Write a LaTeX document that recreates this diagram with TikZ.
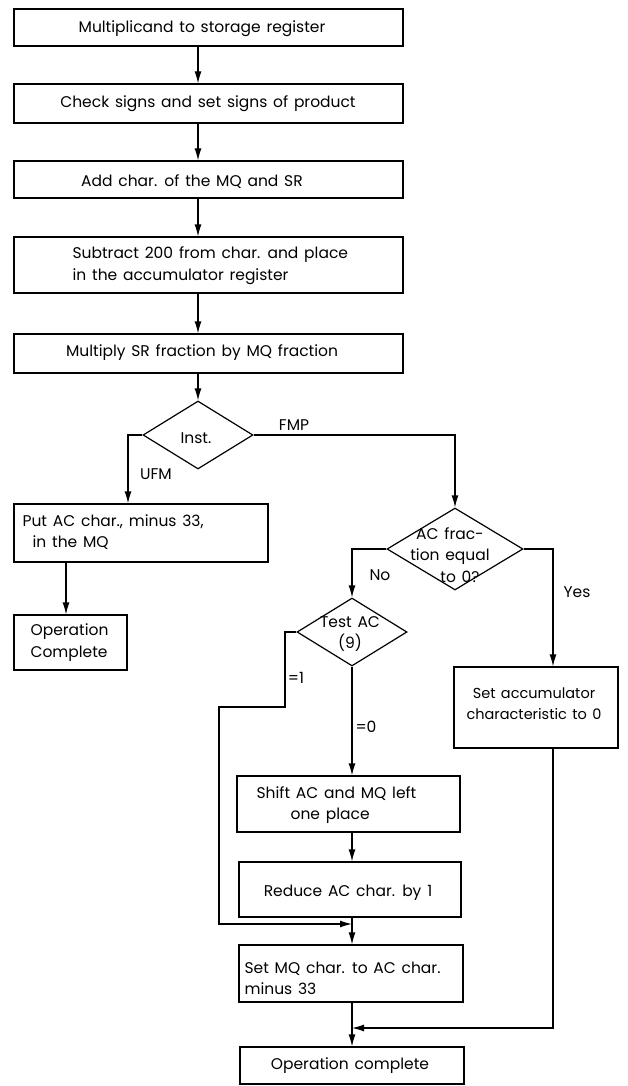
\documentclass[tikz,border=0pt]{standalone}
\usepackage{fontspec}
\setmainfont[WordSpace=1.4]{Poppins}
\usetikzlibrary{arrows.meta,shapes.geometric}
\begin{document}
\begin{tikzpicture}[x=1pt,y=-1pt,
  line width=1.2pt,
  font=\fontsize{15.5}{21.5}\selectfont,
  box/.style={draw, rectangle, inner sep=0pt},
  dia/.style={draw, diamond, inner sep=0pt},
  txt/.style={inner sep=0pt, align=left},
  ctxt/.style={inner sep=0pt, align=center},
  lbl/.style={inner sep=0pt},
  arr/.style={-{Latex[length=12pt,width=7pt]}}]
\useasboundingbox (0,0) rectangle (628,1086);

% spines along which the vertical connectors run
\coordinate (sp)  at (198,0);
\coordinate (sp2) at (352,0);
\coordinate (lx)  at (128,0);
\coordinate (yx)  at (553,0);
\coordinate (ox)  at (66,0);

% main column
\node[box, minimum width=389, minimum height=37] (b1) at (208.5,27.5) {};
\node[ctxt] (t1) at (202,29) {Multiplicand to storage register};
\node[box, minimum width=389, minimum height=39] (b2) at (208.5,103.5) {};
\node[ctxt] (t2) at (208,104) {Check signs and set signs of product};
\node[box, minimum width=389, minimum height=37] (b3) at (208.5,179.5) {};
\node[ctxt] (t3) at (192,182) {Add char. of the MQ and SR};
\node[box, minimum width=389, minimum height=56] (b4) at (208.5,265) {};
\node[txt, anchor=west] (t4) at (72,265.5) {Subtract 200 from char. and place\\in the accumulator register};
\node[box, minimum width=389, minimum height=39] (b5) at (208.5,353.5) {};
\node[ctxt] (t5) at (202,353) {Multiply SR fraction by MQ fraction};

\draw[arr] (b1.south -| sp) -- (b2.north -| sp);
\draw[arr] (b2.south -| sp) -- (b3.north -| sp);
\draw[arr] (b3.south -| sp) -- (b4.north -| sp);
\draw[arr] (b4.south -| sp) -- (b5.north -| sp);

% instruction decision
\node[dia, minimum width=110, minimum height=68] (inst) at (198,435) {};
\node[ctxt] (instt) at (196,438) {Inst.};
\draw[arr] (b5.south -| sp) -- (inst.north);

% UFM branch
\node[box, minimum width=254, minimum height=58] (ufm) at (141,533) {};
\node[txt, anchor=west] (ufmt) at (22,532) {Put AC char., minus 33,\\\hspace*{10pt}in the MQ};
\node[box, minimum width=113, minimum height=55] (op1) at (70.5,642.5) {};
\node[txt, anchor=west] (op1t) at (30,642.5) {Operation\\Complete};
\draw[arr] (inst.west) -| (lx |- ufm.north);
\node[lbl] (ufml) at (156,474) {UFM};
\draw[arr] (ufm.south -| ox) -- (op1.north -| ox);

% FMP branch
\node[dia, minimum width=136, minimum height=82] (ac) at (455,549) {};
\node[ctxt] (act) at (450,555) {AC frac-\\tion equal\\\hspace*{20pt}to 0?};
\draw[arr] (inst.east) -| (ac.north);
\node[lbl] (fmpl) at (294,425) {FMP};

% AC fraction zero
\node[box, minimum width=164, minimum height=81] (sacc) at (536,707.5) {};
\node[ctxt, font=\fontsize{14.5}{21.5}\selectfont] (sacct) at (534,703.5) {Set accumulator\\characteristic to 0};
\draw[arr] (ac.east) -| (yx |- sacc.north);
\node[lbl] (yesl) at (577,592) {Yes};

% AC fraction not zero
\node[dia, minimum width=110, minimum height=68] (tac) at (352,632) {};
\node[ctxt] (tact) at (350,634) {Test AC\\(9)};
\draw[arr] (ac.west) -| (tac.north);
\node[lbl] (nol) at (380,575) {No};

\node[box, minimum width=223, minimum height=56] (shf) at (348.5,804) {};
\node[txt, anchor=west] (shft) at (256,805) {Shift AC and MQ left\\\hspace*{34pt}one place};
\node[box, minimum width=222, minimum height=55] (red) at (350,889.5) {};
\node[ctxt] (redt) at (348,893) {Reduce AC char. by 1};
\node[box, minimum width=224, minimum height=57] (smq) at (351,973.5) {};
\node[txt, anchor=west] (smqt) at (244,978.5) {Set MQ char. to AC char.\\minus 33};
\node[box, minimum width=224, minimum height=37] (op2) at (352,1065.5) {};
\node[ctxt] (op2t) at (350,1066) {Operation complete};

\draw[arr] (tac.south) -- (shf.north -| sp2);
\node[lbl] (eq0) at (366,727) {=0};
\draw[arr] (shf.south -| sp2) -- (red.north -| sp2);
\draw[arr] (red.south -| sp2) -- (smq.north -| sp2);
\draw[arr] (smq.south -| sp2) -- (op2.north -| sp2);

% test AC = 1 bypass
\coordinate (k1) at (285,707);
\coordinate (k2) at (219,924);
\draw[arr] (tac.west) -| (k1) -| (k2) -- (sp2 |- k2);
\node[lbl] (eq1) at (296,678) {=1};

% return from the zero-fraction path
\coordinate (j2) at (352,1028);
\draw[arr] (sacc.south -| yx) |- (j2);
\end{tikzpicture}
\end{document}
